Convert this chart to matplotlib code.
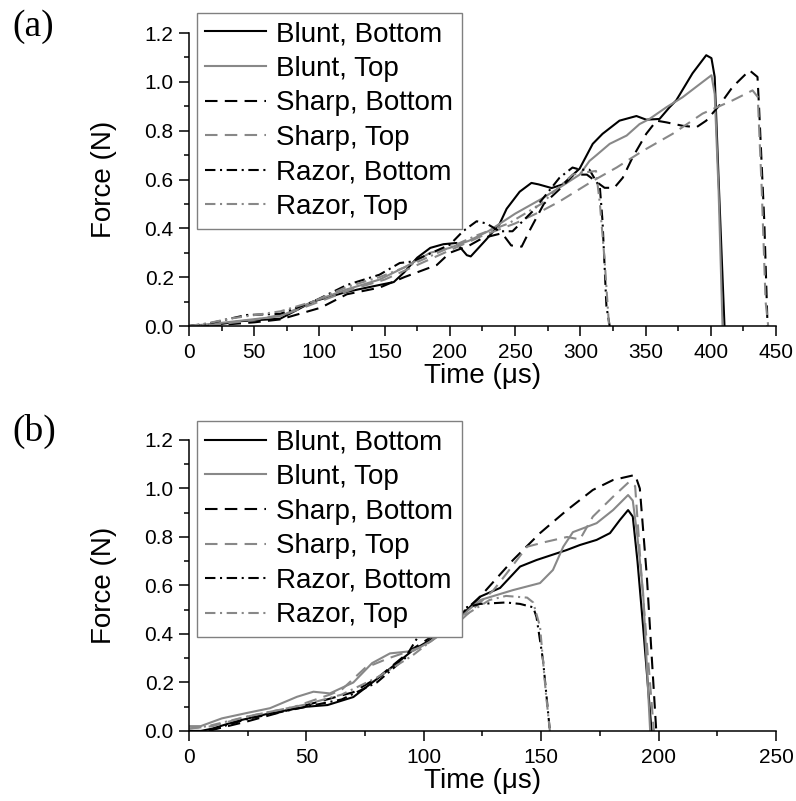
import matplotlib
matplotlib.use("Agg")
import matplotlib.pyplot as plt
from matplotlib.ticker import MultipleLocator, FormatStrFormatter

plt.rcParams['font.family'] = ['Liberation Sans', 'DejaVu Sans']

labels = ['Blunt, Bottom', 'Blunt, Top', 'Sharp, Bottom', 'Sharp, Top', 'Razor, Bottom', 'Razor, Top']
colors = ['black', '#888888', 'black', '#888888', 'black', '#888888']
styles = ['-', '-', (0, (6, 3.5)), (0, (6, 3.5)), (0, (5, 2.2, 1, 2.2)), (0, (5, 2.2, 1, 2.2))]

# panel (a): time in us, force in N
a_blunt_bot_t = [0, 20, 40, 70, 95, 121, 146, 157, 165, 175, 185, 195, 205, 213, 216, 228, 238, 243.5, 253.5, 262.5,
                 268, 278, 286.5, 299.5, 309.5, 317, 330, 343, 350.5, 360.7, 368.4, 373.5, 386, 396.5, 400.5, 403,
                 406, 410.5]
a_blunt_bot_f = [0, 0.005, 0.02, 0.03, 0.10, 0.14, 0.168, 0.18, 0.22, 0.28, 0.32, 0.335, 0.34, 0.29, 0.285, 0.355,
                 0.417, 0.48, 0.55, 0.586, 0.58, 0.565, 0.58, 0.645, 0.746, 0.787, 0.841, 0.86, 0.845, 0.848, 0.896,
                 0.924, 1.035, 1.109, 1.097, 1.02, 0.6, 0]
a_blunt_top_t = [0, 20, 45, 70, 95, 121, 146, 165, 185, 200, 215, 230, 250, 270, 285, 299.5, 307, 312.4, 322.5,
                 335.5, 345.4, 353, 366, 378.4, 391.4, 400.5, 403, 406, 409]
a_blunt_top_f = [0, 0.01, 0.025, 0.04, 0.10, 0.15, 0.19, 0.24, 0.30, 0.32, 0.35, 0.39, 0.46, 0.52, 0.57, 0.62, 0.676,
                 0.70, 0.746, 0.78, 0.827, 0.848, 0.896, 0.937, 0.99, 1.027, 0.95, 0.55, 0]
a_sharp_bot_t = [0, 25, 50, 70, 101, 121, 146, 165, 175, 190, 200, 215, 225, 240, 247, 255, 262, 272, 284, 295, 305,
                 315, 318.6, 326, 332.5, 340, 350.5, 358.4, 366, 378.4, 389, 396.5, 406.5, 416.7, 429.7, 435.8, 437,
                 441, 443.5]
a_sharp_bot_f = [0, 0.005, 0.015, 0.027, 0.075, 0.13, 0.157, 0.20, 0.22, 0.25, 0.30, 0.33, 0.36, 0.38, 0.33, 0.325,
                 0.40, 0.50, 0.56, 0.62, 0.62, 0.58, 0.566, 0.566, 0.607, 0.69, 0.787, 0.841, 0.834, 0.82, 0.814,
                 0.841, 0.903, 0.979, 1.047, 1.02, 0.896, 0.43, 0]
a_sharp_top_t = [0, 25, 50, 75, 100, 125, 150, 175, 200, 225, 250, 270, 284, 309.5, 327.8, 347.8, 370.7, 393.7,
                 416.7, 432, 436, 439, 442, 444]
a_sharp_top_f = [0, 0.008, 0.025, 0.05, 0.10, 0.15, 0.19, 0.25, 0.31, 0.37, 0.42, 0.47, 0.51, 0.594, 0.649, 0.717,
                 0.787, 0.87, 0.924, 0.965, 0.938, 0.566, 0.1, 0]
a_razor_bot_t = [0, 15, 31.4, 44, 70, 95, 121, 146, 161.6, 171, 200, 210, 220.5, 228, 238, 248, 263.5, 274, 284,
                 294, 300, 307, 312, 315, 317, 320, 322.5]
a_razor_bot_f = [0, 0.01, 0.03, 0.045, 0.05, 0.099, 0.168, 0.21, 0.258, 0.264, 0.333, 0.388, 0.429, 0.42, 0.388,
                 0.388, 0.47, 0.54, 0.607, 0.649, 0.64, 0.64, 0.594, 0.566, 0.43, 0.08, 0]
a_razor_top_t = [0, 15, 31, 57, 70, 95, 121, 146, 170, 195, 220, 245, 270, 294, 305, 312, 315, 318.6, 322]
a_razor_top_f = [0, 0.012, 0.03, 0.05, 0.06, 0.10, 0.16, 0.20, 0.25, 0.31, 0.37, 0.42, 0.50, 0.62, 0.63, 0.635, 0.5,
                 0.27, 0]

# panel (b)
b_blunt_bot_t = [0, 5, 10, 20, 34.5, 50, 59, 70, 81.3, 95.5, 109.9, 118.4, 124, 132.5, 141, 148, 160.8, 166.5,
                 173.6, 179.3, 183.5, 187, 189, 191, 193.4, 197]
b_blunt_bot_f = [0, 0, 0.01, 0.04, 0.073, 0.10, 0.107, 0.14, 0.224, 0.334, 0.416, 0.499, 0.554, 0.59, 0.678, 0.705,
                 0.746, 0.767, 0.788, 0.816, 0.87, 0.911, 0.884, 0.7, 0.43, 0]
b_blunt_top_t = [0, 5, 14, 25, 34.5, 46, 53, 60, 70, 78, 85.6, 95.5, 102.6, 112.4, 124, 138, 149.5, 155, 159.4,
                 163.5, 173.6, 180.6, 187, 189, 191, 193.4, 196.4]
b_blunt_top_f = [0.02, 0.02, 0.052, 0.075, 0.094, 0.141, 0.162, 0.155, 0.2, 0.28, 0.32, 0.33, 0.368, 0.444, 0.54,
                 0.581, 0.61, 0.664, 0.76, 0.82, 0.857, 0.911, 0.973, 0.95, 0.8, 0.57, 0]
b_sharp_bot_t = [0, 8, 25, 40, 55, 70, 81, 95.5, 110, 124, 138, 149.5, 161, 172, 180.6, 190, 192, 195, 199]
b_sharp_bot_f = [0, 0, 0.04, 0.08, 0.12, 0.16, 0.224, 0.34, 0.43, 0.554, 0.705, 0.816, 0.911, 0.994, 1.035, 1.056,
                 1.0, 0.636, 0]
b_sharp_top_t = [0, 10, 25, 45, 60, 65, 75, 85, 100, 115, 129.6, 135.3, 144, 152, 161, 166.5, 172, 180.6, 187.5,
                 190, 193, 198]
b_sharp_top_f = [0.01, 0.02, 0.06, 0.1, 0.15, 0.17, 0.26, 0.30, 0.35, 0.45, 0.58, 0.65, 0.76, 0.78, 0.80, 0.79,
                 0.884, 0.966, 1.028, 1.01, 0.6, 0]
b_razor_bot_t = [0, 8, 25, 50, 65, 80, 92, 102.6, 114, 124, 135, 141, 146.6, 148, 150.8, 153.7]
b_razor_bot_f = [0, 0, 0.05, 0.1, 0.13, 0.2, 0.3, 0.47, 0.5, 0.524, 0.53, 0.524, 0.51, 0.47, 0.29, 0]
b_razor_top_t = [0, 8, 25, 50, 65, 80, 95, 107, 118, 128, 135, 144, 146.6, 149.5, 152, 153.7]
b_razor_top_f = [0.01, 0.02, 0.06, 0.11, 0.15, 0.22, 0.31, 0.40, 0.48, 0.54, 0.557, 0.55, 0.53, 0.43, 0.155, 0]

panel_a = [(a_blunt_bot_t, a_blunt_bot_f), (a_blunt_top_t, a_blunt_top_f), (a_sharp_bot_t, a_sharp_bot_f),
           (a_sharp_top_t, a_sharp_top_f), (a_razor_bot_t, a_razor_bot_f), (a_razor_top_t, a_razor_top_f)]
panel_b = [(b_blunt_bot_t, b_blunt_bot_f), (b_blunt_top_t, b_blunt_top_f), (b_sharp_bot_t, b_sharp_bot_f),
           (b_sharp_top_t, b_sharp_top_f), (b_razor_bot_t, b_razor_bot_f), (b_razor_top_t, b_razor_top_f)]

fig = plt.figure(figsize=(7.96, 8.01), dpi=100)
ax_a = fig.add_axes([0.2374, 0.5930, 0.7375, 0.3658])
ax_b = fig.add_axes([0.2374, 0.0874, 0.7375, 0.3633])


def draw_panel(ax, series, xmax, tag, tag_y, leg_y):
    for (t, f), lab, c, ls in zip(series, labels, colors, styles):
        ax.plot(t, f, color=c, linestyle=ls, linewidth=1.5, label=lab)
    ax.set_xlim(0, xmax)
    ax.set_ylim(0, 1.2)
    ax.xaxis.set_major_locator(MultipleLocator(50))
    ax.xaxis.set_minor_locator(MultipleLocator(25))
    ax.yaxis.set_major_locator(MultipleLocator(0.2))
    ax.yaxis.set_minor_locator(MultipleLocator(0.1))
    ax.yaxis.set_major_formatter(FormatStrFormatter('%.1f'))
    for s in ['top', 'right']:
        ax.spines[s].set_visible(False)
    for s in ['left', 'bottom']:
        ax.spines[s].set_linewidth(1.1)
    ax.tick_params(which='major', direction='out', length=7, width=1.1, labelsize=15)
    ax.tick_params(which='minor', direction='out', length=3.5, width=1.1)
    ax.tick_params(axis='x', which='major', pad=5)
    ax.tick_params(axis='y', which='major', pad=4)
    ax.set_xlabel('Time (μs)', fontsize=20, labelpad=1)
    ax.set_ylabel('Force (N)', fontsize=20, labelpad=20)
    leg = ax.legend(loc='upper left', bbox_to_anchor=(0.0136, leg_y), borderaxespad=0, fontsize=20,
                    handlelength=2.2, handletextpad=0.36, labelspacing=0.31, borderpad=0.3,
                    fancybox=False, framealpha=1)
    leg.get_frame().set_edgecolor('#808080')
    leg.get_frame().set_linewidth(1.0)
    fig.text(0.016, tag_y, tag, fontsize=27, family='Liberation Serif', va='center', ha='left')


draw_panel(ax_a, panel_a, 450, '(a)', 0.967, 1.069)
draw_panel(ax_b, panel_b, 250, '(b)', 0.462, 1.065)

fig.savefig('out.png', dpi=100)
